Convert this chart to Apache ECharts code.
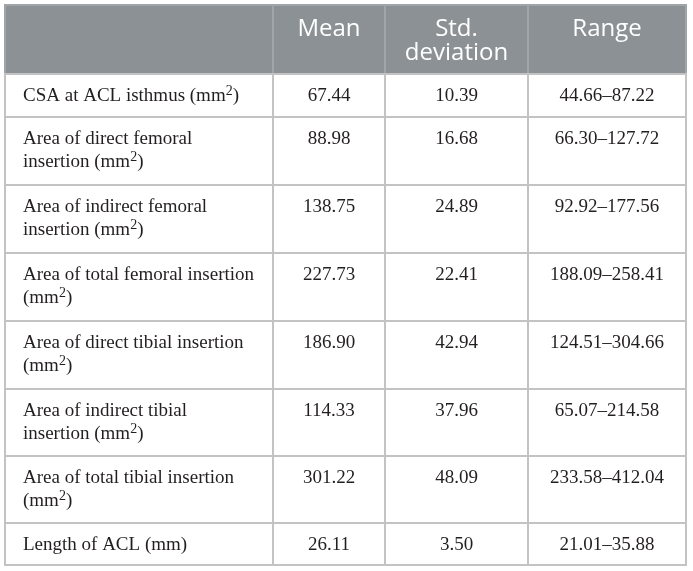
<!DOCTYPE html>
<html>
<head>
<meta charset="utf-8">
<script src="https://cdn.jsdelivr.net/npm/echarts@6/dist/echarts.min.js"></script>
<style>
    html, body { margin: 0; padding: 0; background: #fff; }
    #main { width: 693px; height: 571px; }
</style>
</head>
<body>
<div id="main"></div>
<script>
// table contents
const columns = ['', 'Mean', 'Std.\ndeviation', 'Range'];
const measures = [
    'CSA at ACL isthmus (mm²)',
    'Area of direct femoral\ninsertion (mm²)',
    'Area of indirect femoral\ninsertion (mm²)',
    'Area of total femoral insertion\n(mm²)',
    'Area of direct tibial insertion\n(mm²)',
    'Area of indirect tibial\ninsertion (mm²)',
    'Area of total tibial insertion\n(mm²)',
    'Length of ACL (mm)'
];
const means = ['67.44', '88.98', '138.75', '227.73', '186.90', '114.33', '301.22', '26.11'];
const stdDevs = ['10.39', '16.68', '24.89', '22.41', '42.94', '37.96', '48.09', '3.50'];
const ranges = ['44.66–87.22', '66.30–127.72', '92.92–177.56', '188.09–258.41',
    '124.51–304.66', '65.07–214.58', '233.58–412.04', '21.01–35.88'];

// layout (axis units = px)
const colWidths = [268, 112, 143, 158];
const rowHeights = [69, 43, 68, 68, 68, 68, 67, 67, 42];

function cumul(arr){
    let out = [0];
    arr.forEach(function(v){ out.push(out[out.length - 1] + v); });
    return out;
}
const colEdges = cumul(colWidths);
const rowEdges = cumul(rowHeights);

// cells: [col, row, text]
let cells = [];
columns.forEach(function(t, c){ cells.push([c, 0, t]); });
measures.forEach(function(m, i){
    cells.push([0, i + 1, m.replace(/²/g, '{s|2}')]);
    cells.push([1, i + 1, means[i]]);
    cells.push([2, i + 1, stdDevs[i]]);
    cells.push([3, i + 1, ranges[i]]);
});

let myChart = echarts.init(document.getElementById('main'));

function renderCell(params, api){
    let c = api.value(0), r = api.value(1);
    let text = cells[params.dataIndex][2];
    let p0 = api.coord([colEdges[c], rowEdges[r]]);
    let p1 = api.coord([colEdges[c + 1], rowEdges[r + 1]]);
    let isHead = r === 0;
    let w = p1[0] - p0[0], h = p1[1] - p0[1];
    return {
        type: 'group',
        children: [
            {
                type: 'rect',
                shape: { x: p0[0], y: p0[1], width: w, height: h },
                style: {
                    fill: isHead ? '#8b9194' : '#fff',
                    stroke: isHead ? '#a1a5a7' : '#c3c3c3',
                    lineWidth: 2
                }
            },
            {
                type: 'text',
                z2: 10,
                style: {
                    text: text,
                    x: c === 0 ? p0[0] + 18 : p0[0] + w / 2,
                    y: p0[1] + (isHead ? 12 : 10.5),
                    align: c === 0 ? 'left' : 'center',
                    verticalAlign: 'top',
                    fontFamily: isHead ? 'Open Sans' : 'Liberation Serif',
                    fontSize: isHead ? 24 : 19,
                    lineHeight: isHead ? 24 : 23,
                    fill: isHead ? '#ffffff' : '#231f20',
                    rich: {
                        s: { fontFamily: 'Liberation Serif', fontSize: 14, lineHeight: 14, verticalAlign: 'top', fill: '#231f20' }
                    }
                }
            }
        ]
    };
}

let option = {
    animation: false,
    grid: { left: 5, top: 5, right: 7, bottom: 6 },
    xAxis: { type: 'value', min: 0, max: colEdges[colEdges.length - 1], show: false },
    yAxis: { type: 'value', min: 0, max: rowEdges[rowEdges.length - 1], inverse: true, show: false },
    series: [{
        type: 'custom',
        renderItem: renderCell,
        data: cells.map(function(d){ return [d[0], d[1]]; })
    }]
};
myChart.setOption(option);
</script>
</body>
</html>
